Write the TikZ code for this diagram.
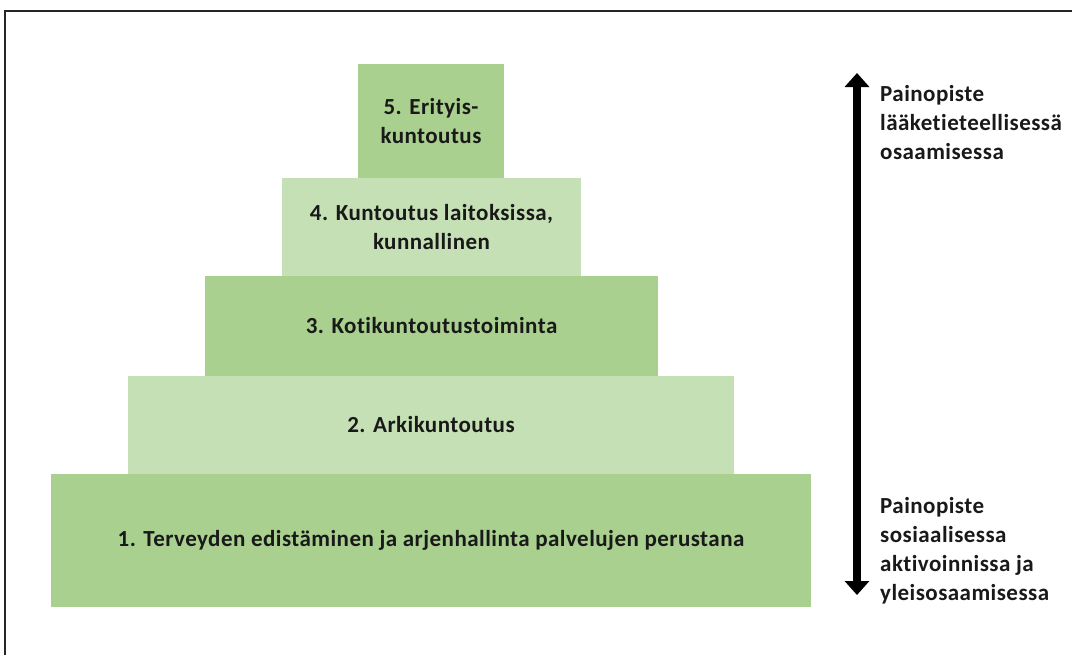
\documentclass[tikz,border=0pt]{standalone}
\usepackage{fontspec}
\setmainfont{Carlito}[Ligatures={NoCommon,NoRequired},LetterSpace=2]
\usetikzlibrary{arrows.meta}
\definecolor{gdark}{HTML}{A9D08E}
\definecolor{glight}{HTML}{C5E0B4}
\tikzset{
  level/.style={draw=none, inner sep=0pt, align=center, font=\bfseries\fontsize{23}{29}\selectfont, text=black!90},
  side/.style={inner sep=0pt, align=left, anchor=north west, font=\bfseries\fontsize{23}{29}\selectfont, text=black!90},
  frameline/.style={line width=2.2pt, draw=black!85},
  bigarrow/.style={line width=8pt, {Triangle[width=24pt,length=14pt]}-{Triangle[width=24pt,length=14pt]}}
}
\begin{document}
\begin{tikzpicture}[x=1pt,y=-1pt]
\useasboundingbox (0,0) rectangle (1072,654);
\fill[white] (0,0) rectangle (1072,654);
\draw[frameline] (5,660) -- (5,11) -- (1080,11);
% levels
\node[level, fill=gdark, minimum width=146pt, minimum height=115pt] (l5) at (431,121) {5. Erityis-\\kuntoutus};
\node[level, fill=glight, minimum width=299pt, minimum height=98pt] (l4) at (431.5,227) {4. Kuntoutus laitoksissa,\\kunnallinen};
\node[level, fill=gdark, minimum width=453pt, minimum height=100pt] (l3) at (431.5,326) {3. Kotikuntoutustoiminta};
\node[level, fill=glight, minimum width=606pt, minimum height=98pt] (l2) at (431,425) {2. Arkikuntoutus};
\node[level, fill=gdark, minimum width=760pt, minimum height=133pt] (l1) at (431,540.5) {1. Terveyden edistäminen ja arjenhallinta palvelujen perustana};
% arrow
\coordinate (atop) at (857,73);
\coordinate (abot) at (857,595);
\draw[bigarrow] (atop) -- (abot);
% side texts
\node[side] (t1) at (880,85) {Painopiste\\lääketieteellisessä\\osaamisessa};
\node[side] (t2) at (880,497) {Painopiste\\sosiaalisessa\\aktivoinnissa ja\\yleisosaamisessa};
\end{tikzpicture}
\end{document}
